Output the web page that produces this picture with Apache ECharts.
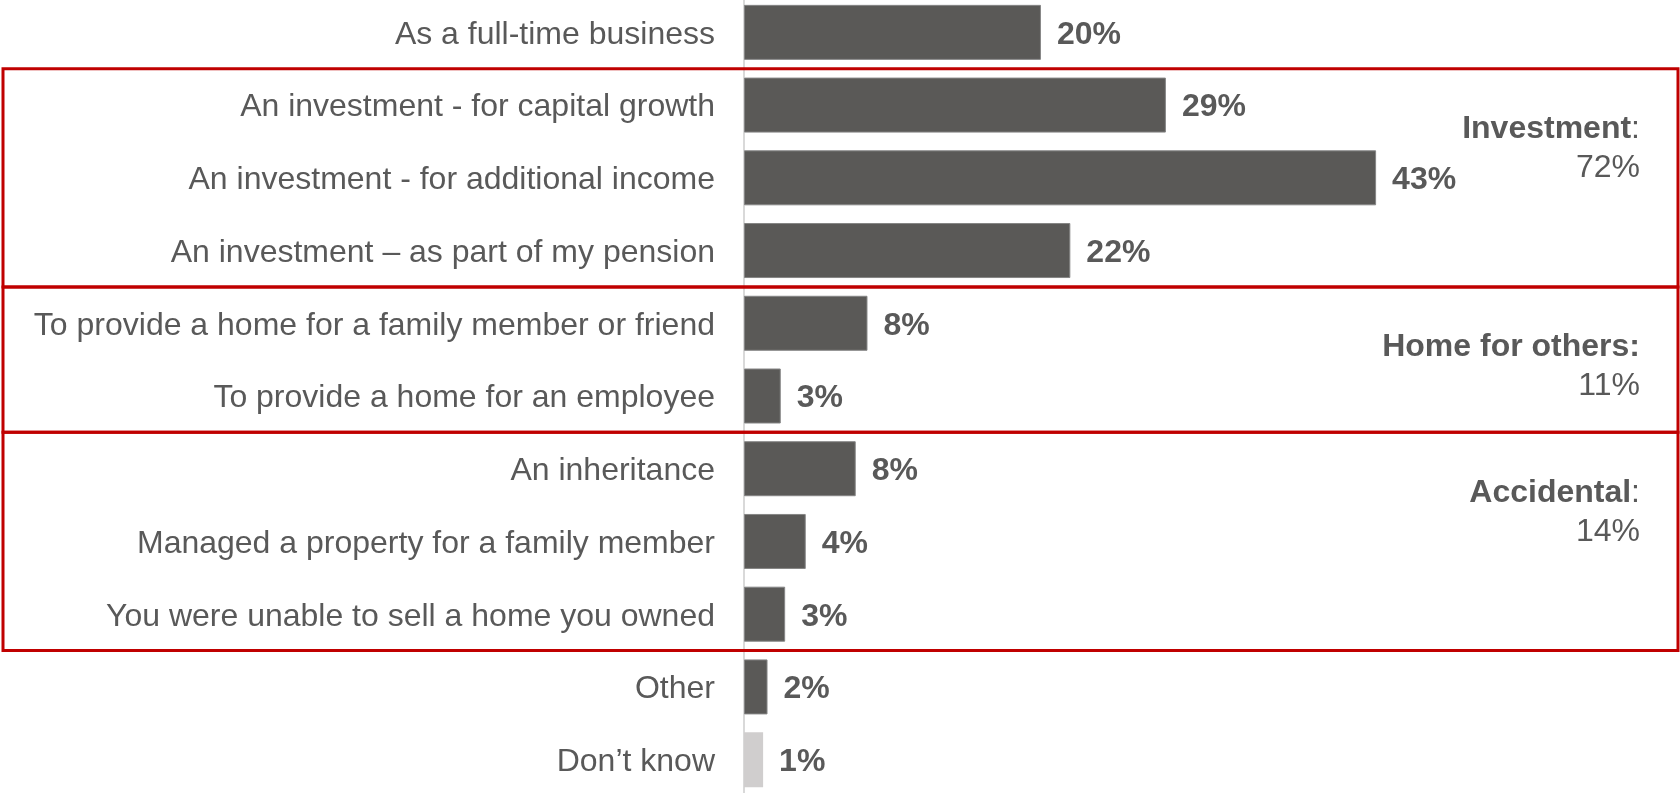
<!DOCTYPE html>
<html>
<head>
<meta charset="utf-8">
<script src="https://cdn.jsdelivr.net/npm/echarts@6/dist/echarts.min.js"></script>
<style>
html,body{margin:0;padding:0;background:#fff;overflow:hidden;width:1680px;height:793px;}
#c{position:absolute;left:0;top:-4px;width:1680px;height:801px;}
</style>
</head>
<body>
<div id="c"></div>
<script>
const categories = [
  'As a full-time business',
  'An investment - for capital growth',
  'An investment - for additional income',
  'An investment \u2013 as part of my pension',
  'To provide a home for a family member or friend',
  'To provide a home for an employee',
  'An inheritance',
  'Managed a property for a family member',
  'You were unable to sell a home you owned',
  'Other',
  'Don\u2019t know'
];
const values = [20.2, 28.7, 43.0, 22.2, 8.4, 2.5, 7.6, 4.2, 2.8, 1.6, 1.3];
const valueLabels = ['20%', '29%', '43%', '22%', '8%', '3%', '8%', '4%', '3%', '2%', '1%'];
const groupNames = ['Investment', 'Home for others', 'Accidental'];
const groupColonBold = [false, true, false];
const groupTotals = ['72%', '11%', '14%'];
const groupFirst = [1, 4, 6];
const groupLast = [3, 5, 8];

const FONT = '"Liberation Sans", Arial, sans-serif';
const TXT = '#595959';
const BAR = '#5a5957';
const BAR_LIGHT = '#d0cece';

const chart = echarts.init(document.getElementById('c'), null, {renderer: 'canvas'});
chart.setOption({
  animation: false,
  backgroundColor: '#fff',
  grid: {left: 744, width: 735, top: 0, height: 800, containLabel: false},
  xAxis: {type: 'value', min: 0, max: 50, show: false},
  yAxis: {
    type: 'category', inverse: true, data: categories,
    axisLine: {show: true, lineStyle: {color: '#d9d9d9', width: 2}},
    axisTick: {show: false},
    splitLine: {show: false},
    axisLabel: {
      margin: 29,
      formatter: v => '{t|' + v + '}',
      rich: {t: {fontFamily: FONT, fontSize: 32, color: TXT, padding: [5, 0, 0, 0]}}
    }
  },
  series: [{
    type: 'bar',
    data: values.map((v, i) => ({
      value: v,
      itemStyle: i === values.length - 1
        ? {color: BAR_LIGHT, borderWidth: 0}
        : {color: BAR, borderColor: '#858585', borderWidth: 1}
    })),
    barWidth: 55,
    label: {
      show: true, position: 'right', distance: 16, offset: [0, 2.5],
      formatter: p => valueLabels[p.dataIndex],
      fontFamily: FONT, fontSize: 32, fontWeight: 'bold', color: TXT
    }
  }]
});

const yc = i => chart.convertToPixel({yAxisIndex: 0}, i);
const band = Math.abs(yc(1) - yc(0));
const graphics = [];
for (let g = 0; g < groupNames.length; g++) {
  const top = yc(groupFirst[g]) - band / 2;
  const bottom = yc(groupLast[g]) + band / 2;
  graphics.push({
    type: 'rect', z: 10,
    shape: {x: 3, y: top, width: 1675, height: bottom - top},
    style: {fill: 'none', stroke: '#c00000', lineWidth: 3}
  });
  const ty = yc(groupFirst[g]) + 24;
  graphics.push({
    type: 'text', z: 11, x: 1640, y: ty,
    style: {
      text: '{b|' + groupNames[g] + (groupColonBold[g] ? ':' : '') + '}' + (groupColonBold[g] ? '' : '{n|:}'),
      align: 'right', verticalAlign: 'middle',
      rich: {
        b: {fontFamily: FONT, fontSize: 32, fontWeight: 'bold', fill: TXT},
        n: {fontFamily: FONT, fontSize: 32, fill: TXT}
      }
    }
  });
  graphics.push({
    type: 'text', z: 11, x: 1640, y: ty + 39,
    style: {text: groupTotals[g], align: 'right', verticalAlign: 'middle', fontFamily: FONT, fontSize: 32, fill: TXT}
  });
}
chart.setOption({graphic: graphics});
</script>
</body>
</html>
